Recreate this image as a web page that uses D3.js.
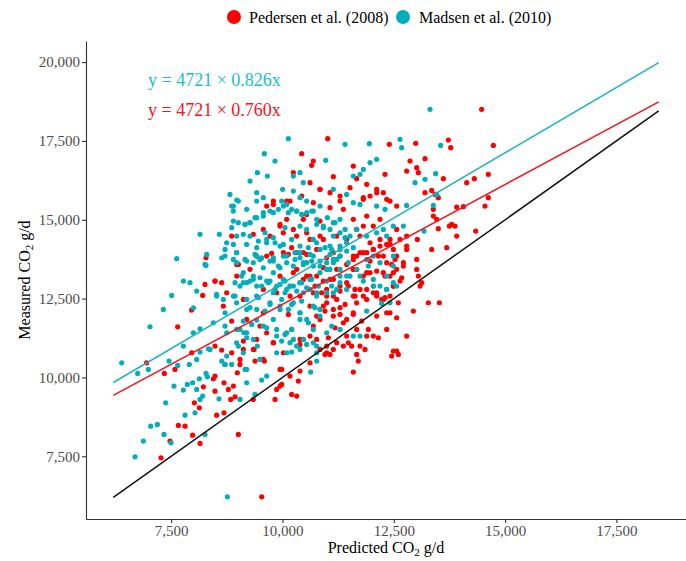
<!DOCTYPE html>
<html>
<head>
<meta charset="utf-8">
<script src="https://cdn.jsdelivr.net/npm/d3@7"></script>
<style>
    body { margin: 0; background: #fff; }
    text { font-family: "Liberation Serif", "Times New Roman", serif; }
    .axis path, .axis line { stroke: #333; stroke-width: 1.1; }
    .axis text { fill: #4d4d4d; font-size: 15px; }
    .axis-title { font-size: 16px; fill: #000; }
    .legend-label { font-size: 16px; fill: #000; }
    .eq-label { font-size: 18px; }
</style>
</head>
<body>
<div id="chart"></div>
<script>

// Predicted vs measured CO2 (g/d)
const pedersen = [
    [7960,12136],[7646,11607],[6950,10465],[7347,10127],[7586,10254],[7960,10783],[8485,10994],[8859,10783],
    [8635,10867],[9121,11152],[9360,10888],[9593,10518],[9383,10518],[9046,10412],[8986,10148],[8447,9958],
    [8485,9566],[8687,9831],[8784,9619],[8223,9704],[8021,9196],[8133,9038],[8522,8805],[8687,8879],
    [8837,9302],[8934,9387],[9346,9302],[9009,8192],[7661,8477],[7811,8456],[7983,8170],[7474,7981],
    [7272,7452],[8148,7907],[9533,6215],[8672,12263],[8859,11787],[9196,11840],[9495,11628],[9121,10888],
    [9795,11100],[9982,10254],[9982,9778],[9945,9725],[9832,9302],[10206,9461],[10356,9884],[10393,11047],
    [10468,11205],[10768,11205],[10993,10994],[11142,10888],[11067,10730],[10955,10730],[11180,11575],[11367,11734],
    [11292,11998],[11591,12051],[11479,11100],[11554,10994],[11666,10730],[11703,10518],[11591,10169],[11853,10888],
    [11891,11311],[12153,11258],[12490,10835],[12602,10730],[12340,12051],[12415,12051],[12564,11893],[10693,11628],
    [10843,11840],[11142,12157],[10132,11998],[9645,11417],[9420,11205],[9570,12051],
    [11015,17571],[10431,17095],[10693,16863],[12400,17391],[10244,16493],[10655,16725],[11142,16366],[10618,16175],
    [10843,15964],[11591,16704],[11666,16302],[12303,16440],[11891,16123],[12115,15964],[12265,15858],[9795,15594],
    [9645,15435],[10094,15594],[10693,15541],[11067,15382],[11292,15594],[11367,15330],[11816,15647],[11966,15753],
    [12415,15594],[9945,14854],[10094,15013],[10543,15171],[10468,15013],[10843,14960],[11591,15013],[11891,15118],
    [12040,14801],[12190,15013],[9346,14537],[8859,14484],[9720,14484],[10019,14589],[10318,14484],[10618,14378],
    [10918,14378],[11217,14484],[11666,14695],[11816,14801],[12415,14378],[12565,14695],[8283,13796],[8971,13585],
    [9420,13849],[9757,13934],[10206,14114],[10318,13955],[10768,14061],[11142,13955],[11591,13744],[11741,13955],
    [12040,14061],[12190,14167],[12340,14219],[12490,14061],[12565,13849],[8485,13056],[8635,13004],[8208,12602],
    [8747,12686],[9121,12475],[9945,13215],[10244,13321],[10468,13109],[10768,13215],[11067,13109],[11292,12898],
    [11591,13426],[11816,13215],[11966,13321],[12265,13321],[12415,13215],[12490,12898],[10393,12581],[10693,12686],
    [10993,12581],[11591,12581],[11891,12792],[12115,12581],[12265,12475],[10993,12369],[11666,12369],
    [12992,17423],[13725,17529],[13778,17285],[14736,17359],[13201,16937],[12864,16863],[12789,16545],[13014,16651],
    [13051,16493],[13613,16302],[14137,16175],[14309,16302],[14623,16440],[14623,15700],[14548,15435],[13912,15403],
    [14062,15414],[13351,15932],[13201,15858],[13426,15805],[13500,15700],[13388,15330],[13388,15118],[13463,15013],
    [13800,14854],[13875,14801],[13748,14801],[13500,14717],[13912,14484],[14339,14642],[13029,14378],[12789,14484],
    [12789,14167],[12715,13638],[13014,13744],[13351,14061],[13688,14114],[13051,13215],[13014,13426],[13276,12369],
    [13523,12369],[12939,12104],[12789,11312],[12640,13056],[13126,13004],[13089,12898],[14473,18502],
    [8485,13057],[9009,13585],[9645,13850],[10132,13902],[10469,13955],[10918,13480],[11217,13427],[11442,13585],
    [11666,13850],[11891,13955],[12041,14061],[12265,13850],[12452,13585],[12565,13427],[10543,13215],[10731,12898],
    [10880,12686],[10993,12792],[11142,12581],[11292,12739],[11479,12898],[11629,12581],[11741,12792],[11891,12475],
    [12116,12686],[12303,12528],[12490,12898],[10618,12264],[10768,11946],[10955,12105],[11142,11946],[11292,12211],
    [11442,11841],[11591,12000],[11779,11788],[11928,11524],[12116,11946],[11666,11524],[11442,11312],[11217,11101],
    [11030,11259],[10843,10889],[10618,11312],[10394,11206],[10207,11524],[10020,10783],[9795,11101],[9570,10572],
    [9346,10889],[9046,10572],[8709,10413],[8485,10044],[8897,9726],[9945,10255],[10169,10044],[10394,10202],
    [10618,10466],[10993,10783],[11367,10995],[11741,10995],[12041,11312],[12340,11524],[12565,10836],[12452,10678],
    [9870,9620],[10319,9409],[8260,12951],
    [10843,15964],[11068,15858],[11293,15752],[11517,16017],[11816,15700],[12116,15858],[12340,15647],[12565,15435],
    [10431,15752],[10170,15594],[9795,15488],[9571,14695],[9945,14801],[10244,14695],[10544,14589],[10843,14484],
    [11442,14378],[11741,14484],[11966,14272],[12191,14378],[12415,14219],[12640,14378],[12790,14061],[11592,13849],
    [11816,13955],[11966,13691],[12154,13849],[12340,13638],[12528,13744],[12715,13532],[11667,13426],[11891,13321],
    [12116,13374],[12303,13215],[12490,13321],[12677,13162],[11442,13004],[11629,12792],[11816,12581],[12041,12686],
    [12228,12475],[12415,12581],[12602,12369],[11218,12475],[11405,12317],[10918,12264],[10170,12581],[9870,12686],
    [9571,12792],[9271,13427],[8972,13215],[10319,13427],[10619,13215],[10918,13057],[11143,13110],[10020,13955],
    [10544,13902],[10993,13796],[11293,13849]
];

const madsen = [
    [7324,12157],[7025,11607],[6389,10465],[6748,10127],[6987,10254],[7452,10518],[7774,10994],[7998,11417],
    [8148,11544],[8447,11734],[8148,10804],[8335,10909],[8073,10571],[7908,10412],[7646,10381],[7564,9725],
    [7774,9598],[7863,9778],[7983,9831],[8133,9958],[8073,9619],[8283,10127],[8313,10021],[8148,9302],
    [8208,9408],[8575,9323],[8635,10518],[8710,10412],[8859,10412],[8710,11628],[8747,11417],[8971,11100],
    [9009,10994],[9121,10783],[9196,10254],[9196,9831],[9046,9302],[9383,9461],[9533,9915],[9645,10042],
    [9435,10994],[9196,11258],[9046,11523],[9136,11417],[9308,11681],[9420,11818],[9570,11628],[9795,11840],
    [9870,11311],[9982,11152],[10094,11417],[10206,11523],[10244,11205],[10393,11840],[10581,11734],[10693,11100],
    [10768,10783],[10768,10518],[10633,10169],[10094,10783],[10206,10804],[10318,10994],[10543,11047],[9945,12157],
    [10393,12051],[10843,12157],[11741,11311],[11891,12104],[12227,12347],[12415,12368],[7040,8456],[7190,8509],
    [7339,8192],[7496,7928],[6875,7981],[6688,7484],[7811,8805],[8036,8879],[8260,8192],[8762,6215],
    [7377,9196],[8971,12368],[9196,12157],[8710,12051],[8000,12210],
    [10131,17571],[9593,17095],[9832,16863],[11404,17391],[11951,17412],[10970,16884],[9436,16493],[9271,16228],
    [9660,16387],[10244,16387],[10393,16493],[10468,16175],[10004,15964],[10244,15911],[10393,15700],[11142,15964],
    [11441,15805],[11591,16387],[11816,16598],[11966,16810],[12115,16916],[11741,16440],[8821,15805],[9009,15594],
    [8897,15435],[9420,15858],[9420,15594],[9570,15700],[9982,15594],[10094,15488],[10543,15594],[10693,15277],
    [10843,15435],[8897,15277],[9196,15330],[9383,15065],[9570,15118],[9795,15224],[10206,15330],[10318,15277],
    [10431,15171],[11007,15065],[11142,14907],[11292,15013],[11591,15541],[11741,15488],[12115,15435],[12303,15330],
    [8897,14960],[8859,14748],[9158,14854],[9271,14907],[8148,14537],[8582,14537],[8971,14484],[9121,14537],
    [9608,14589],[9795,14431],[10057,14748],[10393,14801],[10543,14695],[10768,14854],[10918,14748],[11142,14484],
    [11404,14431],[10693,14378],[8747,14272],[8897,14219],[9196,14219],[9420,14114],[9645,14272],[9945,14167],
    [8710,14061],[7624,13765],[8298,13902],[8635,13796],[8971,13955],[9196,13691],[9420,13849],[9795,13796],
    [10094,13849],[10393,13955],[10618,13902],[10843,14061],[11067,14167],[11292,14061],[11441,14272],[11591,14114],
    [11891,14484],[12115,14589],[12265,14695],[12490,14801],[12340,14484],[8283,13553],[8971,13638],[9121,13321],
    [9346,13215],[9570,13479],[9795,13321],[9945,13479],[10244,13532],[10468,13638],[10693,13532],[10993,13638],
    [11142,13744],[11292,13849],[11479,13638],[11891,13744],[12040,13849],[12490,13532],[7774,13056],[7923,13004],
    [8073,12739],[7511,12602],[8522,12634],[8897,12581],[9046,12898],[9196,13004],[9420,12898],[9645,13056],
    [10019,13109],[10169,12898],[10393,13004],[10618,13109],[10843,13321],[11067,13426],[11292,13215],[11741,13215],
    [12040,13109],[12190,12898],[12340,12792],[12490,13004],[8672,12475],[9420,12581],[9795,12686],[10094,12792],
    [10468,12686],[10768,12581],[11142,12686],[11441,12792],
    [13553,17359],[12640,17550],[12677,17285],[13440,16461],[12977,16175],[13201,16281],[12789,15456],[12715,14801],
    [13179,14642],[13388,15456],[13463,15805],[13313,18502],
    [8709,13850],[8897,13744],[9383,13902],[9495,13744],[9795,13691],[10020,13850],[10281,13955],[10394,13797],
    [10543,13638],[10693,13850],[10843,13691],[11067,13902],[11217,13744],[8260,13585],[8522,12581],[8934,13004],
    [9121,13004],[9346,13110],[9533,12898],[9720,13057],[9832,12792],[9945,12951],[10057,12686],[10169,12898],
    [10319,12739],[10394,13004],[10543,12845],[10656,13110],[10768,12686],[10993,13057],[11105,12898],[11292,13004],
    [11442,13215],[11666,13427],[11928,13532],[12041,12898],[12190,13638],[12340,13215],[12490,13850],[9271,12211],
    [9421,12158],[9608,12105],[9720,12317],[9945,12264],[10132,12158],[10244,12369],[10394,12052],[10543,11841],
    [10731,12211],[10843,11946],[11105,11629],[9121,11788],[8971,11524],[9196,11418],[9346,11206],[9645,11576],
    [9870,11524],[10057,11365],[10169,11101],[10469,11206],[10693,11524],[10993,11418],[11292,11524],[11591,11312],
    [8373,10889],[8747,10678],[9159,10255],[9495,10572],[9870,10783],[10394,10889],[10768,10995],
    [8972,15626],[8859,15435],[9009,14907],[9159,14854],[9271,14907],[9421,15065],[9571,15224],[9720,15277],
    [9908,15330],[10020,15435],[10132,15224],[10319,15277],[10544,15224],[10656,15277],[10768,15013],[10918,14801],
    [11068,14695],[11180,14907],[11293,14589],[11405,14695],[11517,14484],[11667,14695],[9271,14484],[9458,14325],
    [9645,14378],[9833,14272],[10020,14219],[10207,14378],[10394,14167],[10581,14114],[10768,14272],[10955,14114],
    [11105,14061],[11293,14167],[11442,14008],[8972,13955],[9159,13744],[9346,13638],[9533,13796],[9720,13691],
    [9908,13532],[10095,13638],[10282,13744],[10469,13585],[10656,13691],[10843,13532],[10993,13426],[11143,13638],
    [11293,13426],[11517,13215],[11816,13057],[12041,12898],[12340,12792],[12565,12898],[9084,13215],[9271,13057],
    [9496,13162],[9683,13004],[9870,12898],[10057,13057],[10244,12898],[10431,13004],[10619,12792],[10806,12898],
    [10993,12686],[11218,12792],[8934,12581],[9196,12475],[9458,12528],[9720,12369],[9982,12475],[10207,12317],
    [10431,12422],[10693,12264]
];

// fitted lines (end points) and the 1:1 line
const fitMadsen = [[6200, 9840], [18450, 19980]];
const fitPedersen = [[6200, 9430], [18450, 18740]];
const identityLine = [[6200, 6200], [18450, 18450]];

const seriesNames = ["Pedersen et al. (2008)", "Madsen et al. (2010)"];
const equations = ["y = 4721 × 0.826x", "y = 4721 × 0.760x"];
const xTicks = [7500, 10000, 12500, 15000, 17500];
const yTicks = [7500, 10000, 12500, 15000, 17500, 20000];

const red = "#ff0000";
const teal = "#00afbb";

class CO2Scatter {

    constructor(parentElement) {
        this.parentElement = parentElement;
        this.initVis();
    }

    initVis() {
        let vis = this;

        vis.margin = {top: 41, right: 0, bottom: 42, left: 86};
        vis.width = 686 - vis.margin.left - vis.margin.right;
        vis.height = 561 - vis.margin.top - vis.margin.bottom;

        vis.root = d3.select("#" + vis.parentElement).append("svg")
            .attr("width", 686)
            .attr("height", 561);

        vis.svg = vis.root.append("g")
            .attr("transform", "translate(" + vis.margin.left + "," + vis.margin.top + ")");

        // ggplot style 5% expansion around everything that is drawn
        let all = pedersen.concat(madsen, fitMadsen, fitPedersen, identityLine);
        let xExt = d3.extent(all, d => d[0]);
        let yExt = d3.extent(all, d => d[1]);
        let xPad = (xExt[1] - xExt[0]) * 0.05;
        let yPad = (yExt[1] - yExt[0]) * 0.05;

        vis.x = d3.scaleLinear()
            .domain([xExt[0] - xPad, xExt[1] + xPad])
            .range([0, vis.width]);

        vis.y = d3.scaleLinear()
            .domain([yExt[0] - yPad, yExt[1] + yPad])
            .range([vis.height, 0]);

        vis.xAxis = d3.axisBottom(vis.x)
            .tickValues(xTicks)
            .tickFormat(d3.format(","))
            .tickSize(4)
            .tickSizeOuter(0)
            .tickPadding(2);

        vis.yAxis = d3.axisLeft(vis.y)
            .tickValues(yTicks)
            .tickFormat(d3.format(","))
            .tickSize(4)
            .tickSizeOuter(0)
            .tickPadding(2);

        vis.updateVis();
    }

    updateVis() {
        let vis = this;

        // points
        vis.svg.append("g").selectAll("circle.ped")
            .data(pedersen)
            .enter().append("circle")
            .attr("class", "ped")
            .attr("cx", d => vis.x(d[0]))
            .attr("cy", d => vis.y(d[1]))
            .attr("r", 2.6)
            .attr("fill", red);

        vis.svg.append("g").selectAll("circle.mad")
            .data(madsen)
            .enter().append("circle")
            .attr("class", "mad")
            .attr("cx", d => vis.x(d[0]))
            .attr("cy", d => vis.y(d[1]))
            .attr("r", 2.6)
            .attr("fill", teal);

        // lines
        let line = d3.line()
            .x(d => vis.x(d[0]))
            .y(d => vis.y(d[1]));

        vis.svg.append("path").datum(fitMadsen)
            .attr("d", line).attr("fill", "none")
            .attr("stroke", "#1cb3c0").attr("stroke-width", 1.5);

        vis.svg.append("path").datum(fitPedersen)
            .attr("d", line).attr("fill", "none")
            .attr("stroke", "#f5141c").attr("stroke-width", 1.5);

        vis.svg.append("path").datum(identityLine)
            .attr("d", line).attr("fill", "none")
            .attr("stroke", "#111").attr("stroke-width", 1.5);

        // axes
        vis.svg.append("g")
            .attr("class", "axis x-axis")
            .attr("transform", "translate(0," + vis.height + ")")
            .call(vis.xAxis);

        vis.svg.append("g")
            .attr("class", "axis y-axis")
            .call(vis.yAxis);

        // axis titles
        let xt = vis.root.append("text")
            .attr("class", "axis-title")
            .attr("x", vis.margin.left + vis.width / 2)
            .attr("y", 553)
            .attr("text-anchor", "middle");
        xt.append("tspan").text("Predicted CO");
        xt.append("tspan").text("2").attr("font-size", "11px").attr("dy", 3);
        xt.append("tspan").text(" g/d").attr("dy", -3);

        let yt = vis.root.append("text")
            .attr("class", "axis-title")
            .attr("transform", "translate(30," + (vis.margin.top + vis.height / 2) + ") rotate(-90)")
            .attr("text-anchor", "middle");
        yt.append("tspan").text("Measured CO");
        yt.append("tspan").text("2").attr("font-size", "11px").attr("dy", 3);
        yt.append("tspan").text(" g/d").attr("dy", -3);

        // equations
        vis.root.append("text")
            .attr("class", "eq-label")
            .attr("x", 148).attr("y", 86)
            .attr("fill", "#17bfca")
            .text(equations[0]);

        vis.root.append("text")
            .attr("class", "eq-label")
            .attr("x", 148).attr("y", 116)
            .attr("fill", "#f5141c")
            .text(equations[1]);

        // legend
        let legend = vis.root.append("g");
        let items = [
            {name: seriesNames[0], color: red, cx: 234, tx: 249},
            {name: seriesNames[1], color: teal, cx: 403, tx: 419}
        ];
        items.forEach(it => {
            legend.append("circle")
                .attr("cx", it.cx).attr("cy", 17).attr("r", 7)
                .attr("fill", it.color);
            legend.append("text")
                .attr("class", "legend-label")
                .attr("x", it.tx).attr("y", 23)
                .text(it.name);
        });
    }
}

new CO2Scatter("chart");

</script>
</body>
</html>
